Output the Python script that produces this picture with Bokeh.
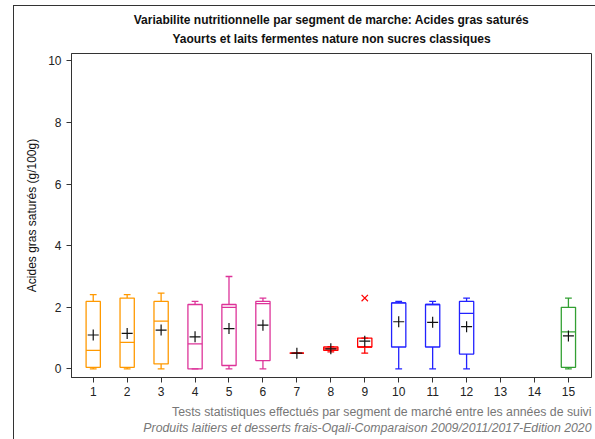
from bokeh.plotting import figure
from bokeh.models import ColumnDataSource, Title, FixedTicker, Range1d, InlineStyleSheet
from bokeh.embed import file_html
from bokeh.resources import INLINE

segments = [1, 2, 3, 4, 5, 6, 7, 8, 9, 10, 11, 12, 15]
wmin =   [0.00, 0.00, 0.00, 0.00, 0.00, 0.00, 0.51, 0.55, 0.51, 0.00, 0.00, 0.00, 0.00]
q1 =     [0.05, 0.05, 0.16, 0.00, 0.11, 0.27, 0.51, 0.60, 0.71, 0.71, 0.71, 0.48, 0.05]
median = [0.60, 0.86, 1.55, 0.81, 2.00, 2.12, 0.51, 0.65, 0.71, 2.14, 2.09, 1.80, 1.20]
q3 =     [2.19, 2.30, 2.19, 2.09, 2.09, 2.19, 0.51, 0.71, 1.00, 2.14, 2.09, 2.19, 2.00]
wmax =   [2.41, 2.41, 2.46, 2.19, 3.00, 2.30, 0.51, 0.72, 1.00, 2.19, 2.19, 2.30, 2.30]
mean =   [1.10, 1.15, 1.26, 1.04, 1.31, 1.42, 0.51, 0.65, 0.90, 1.53, 1.51, 1.37, 1.07]
colors = ["#FF9900", "#FF9900", "#FF9900", "#DD3399", "#DD3399", "#DD3399",
          "#FF0000", "#FF0000", "#FF0000", "#2222FF", "#2222FF", "#2222FF", "#33A033"]
outlier_x = [9]
outlier_y = [2.30]
outlier_color = ["#FF0000"]
x_ticks = list(range(1, 16))
y_ticks = [0, 2, 4, 6, 8, 10]

BOX_W = 0.42
CAP_W = 0.2

src = ColumnDataSource(dict(
    x=segments, wmin=wmin, q1=q1, median=median, q3=q3, wmax=wmax, mean=mean, color=colors,
    cl=[s - CAP_W / 2 for s in segments], cr=[s + CAP_W / 2 for s in segments],
    bl=[s - BOX_W / 2 for s in segments], br=[s + BOX_W / 2 for s in segments],
))

frame_css = InlineStyleSheet(css="""
:host { position: relative; }
:host::after {
  content: "";
  position: absolute;
  left: 13px; top: 5px; right: 0px; bottom: 0px;
  border-left: 1px solid #333333;
  border-top: 1px solid #333333;
  pointer-events: none;
  z-index: 10;
}
""")

p = figure(width=595, height=439, output_backend="svg", toolbar_location=None,
           x_range=Range1d(0.36, 15.68), y_range=Range1d(-0.28, 10.24),
           min_border_left=71, min_border_right=4, min_border_top=53, min_border_bottom=62,
           stylesheets=[frame_css])

p.xgrid.visible = False
p.ygrid.visible = False
p.outline_line_color = "#333333"
p.outline_line_width = 1
p.background_fill_color = "white"
p.border_fill_color = "white"

for ax in (p.xaxis[0], p.yaxis[0]):
    ax.axis_line_color = "#333333"
    ax.major_tick_line_color = "#333333"
    ax.major_tick_in = 0
    ax.major_tick_out = 5
    ax.minor_tick_line_color = None
    ax.major_label_text_font = "Liberation Sans"
    ax.major_label_text_font_size = "12px"
    ax.major_label_text_color = "#222222"
    ax.axis_label_text_font = "Liberation Sans"
    ax.axis_label_text_font_size = "12px"
    ax.axis_label_text_font_style = "normal"
    ax.axis_label_text_color = "#111111"

p.xaxis.ticker = FixedTicker(ticks=x_ticks)
p.yaxis.ticker = FixedTicker(ticks=y_ticks)
p.yaxis.axis_label = "Acides gras saturés (g/100g)"
p.yaxis.axis_label_standoff = 6
p.xaxis.major_label_standoff = 4

# whiskers
p.segment(x0="x", y0="wmin", x1="x", y1="q1", line_color="color", line_width=1.3, source=src)
p.segment(x0="x", y0="q3", x1="x", y1="wmax", line_color="color", line_width=1.3, source=src)
# caps
p.segment(x0="cl", y0="wmin", x1="cr", y1="wmin", line_color="color", line_width=1.3, source=src)
p.segment(x0="cl", y0="wmax", x1="cr", y1="wmax", line_color="color", line_width=1.3, source=src)
# boxes
p.quad(left="bl", right="br", bottom="q1", top="q3", fill_color=None,
       line_color="color", line_width=1.3, source=src)
# medians
p.segment(x0="bl", y0="median", x1="br", y1="median", line_color="color", line_width=1.3, source=src)
# means
p.scatter(x="x", y="mean", marker="cross", size=11, line_color="#111111", line_width=1.2, source=src)
# outliers
p.scatter(x=outlier_x, y=outlier_y, marker="x", size=9, line_color=outlier_color, line_width=1.2)

# titles
t2 = Title(text="Yaourts et laits fermentes nature non sucres classiques", align="center",
           text_font="Liberation Sans", text_font_size="12px", text_font_style="bold",
           text_color="#111111", standoff=11, vertical_align="top")
t1 = Title(text="Variabilite nutritionnelle par segment de marche: Acides gras saturés", align="center",
           text_font="Liberation Sans", text_font_size="12px", text_font_style="bold",
           text_color="#111111", standoff=0)
p.add_layout(t2, "above")
p.add_layout(t1, "above")

f1 = Title(text="Tests statistiques effectués par segment de marché entre les années de suivi",
           align="right", text_font="Liberation Sans", text_font_size="12.3px",
           text_font_style="normal", text_color="#777777", standoff=8, vertical_align="bottom")
f2 = Title(text="Produits laitiers et desserts frais-Oqali-Comparaison 2009/2011/2017-Edition 2020",
           align="right", text_font="Liberation Sans", text_font_size="12.3px",
           text_font_style="italic", text_color="#777777", standoff=-4, vertical_align="top")
p.add_layout(f1, "below")
p.add_layout(f2, "below")

open("out.html", "w").write(file_html(p, INLINE))
